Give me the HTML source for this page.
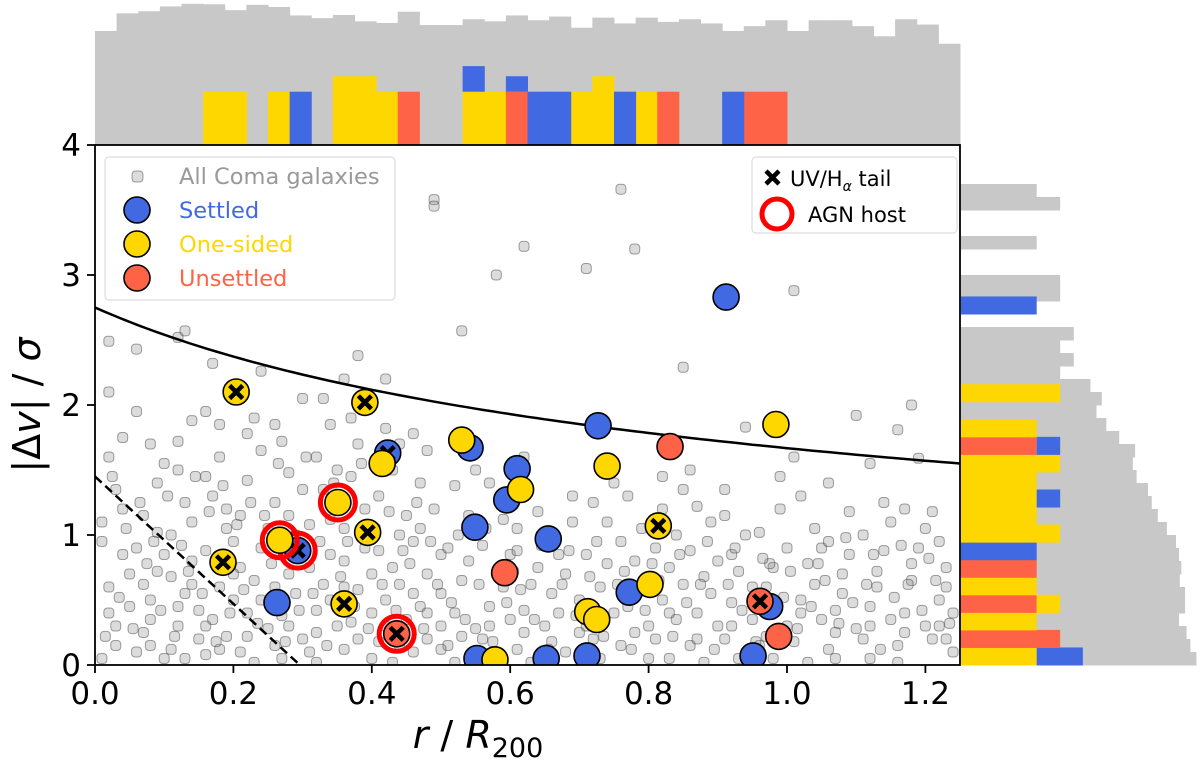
<!DOCTYPE html>
<html><head><meta charset="utf-8"><style>
html,body{margin:0;padding:0;background:#fff;}
svg{display:block;font-family:"DejaVu Sans","Liberation Sans",sans-serif;}
</style></head><body>
<svg id="chart" width="1200" height="768" viewBox="0 0 1200 768" xmlns="http://www.w3.org/2000/svg">
<g id="tophist"></g>
<g id="righthist"></g>
<g id="plot"></g>
<g id="axes"></g>
<g id="legend"></g>
</svg>
<script>
// ---- data ----
const xTicks = [0.0, 0.2, 0.4, 0.6, 0.8, 1.0, 1.2];
const xTickLabels = ["0.0","0.2","0.4","0.6","0.8","1.0","1.2"];
const yTicks = [0, 1, 2, 3, 4];
const yTickLabels = ["0","1","2","3","4"];
const grayPts = [[0.01,0.05],[0.03,0.3],[0.02,0.6],[0.04,0.85],[0.01,1.1],[0.03,1.35],[0.02,1.6],[0.04,1.75],[0.02,2.1],[0.03,0.15],[0.05,0.45],[0.01,0.95],[0.04,1.2],[0.02,2.49],
[0.06,0.1],[0.07,0.25],[0.08,0.5],[0.09,0.72],[0.06,0.9],[0.07,1.15],[0.09,1.4],[0.08,1.7],[0.06,1.95],[0.1,0.05],[0.08,0.35],[0.07,0.62],[0.09,1.02],[0.06,2.43],[0.1,1.55],
[0.11,0.12],[0.12,0.3],[0.13,0.55],[0.14,0.8],[0.11,1.0],[0.13,1.25],[0.12,1.5],[0.14,1.88],[0.13,2.57],[0.12,2.52],[0.15,0.2],[0.11,0.68],[0.14,1.1],[0.12,1.72],[0.15,0.42],[0.13,0.05],
[0.16,0.08],[0.17,0.35],[0.18,0.6],[0.16,0.88],[0.19,1.05],[0.17,1.3],[0.18,1.6],[0.16,1.95],[0.17,2.32],[0.19,0.22],[0.2,0.5],[0.18,1.85],[0.16,1.45],[0.2,0.95],[0.19,1.2],
[0.21,0.1],[0.22,0.4],[0.23,0.65],[0.24,0.9],[0.21,1.15],[0.22,1.42],[0.24,1.65],[0.23,1.9],[0.24,2.26],[0.25,0.28],[0.21,0.75],[0.25,1.05],[0.22,1.78],[0.23,0.02],
[0.26,0.15],[0.27,0.38],[0.28,0.7],[0.29,1.0],[0.26,1.25],[0.28,1.48],[0.27,1.72],[0.3,2.05],[0.29,0.55],[0.3,0.2],[0.26,1.85],[0.28,1.15],[0.3,1.35],[0.27,0.05],
[0.31,0.1],[0.32,0.42],[0.33,0.62],[0.34,0.85],[0.31,1.08],[0.33,1.35],[0.32,1.6],[0.34,1.85],[0.35,0.3],[0.31,0.75],[0.35,1.5],[0.33,2.05],[0.32,0.02],[0.34,1.12],
[0.36,0.12],[0.37,0.33],[0.38,0.58],[0.36,0.8],[0.39,1.2],[0.37,1.45],[0.38,1.7],[0.36,2.2],[0.38,2.38],[0.4,0.4],[0.39,0.9],[0.37,1.9],[0.4,0.05],[0.36,1.05],
[0.41,0.18],[0.42,0.5],[0.43,0.75],[0.44,1.0],[0.41,1.3],[0.43,1.5],[0.42,1.82],[0.45,0.35],[0.44,0.62],[0.41,0.88],[0.45,1.15],[0.43,0.02],[0.44,1.7],[0.42,2.2],
[0.46,0.1],[0.47,0.45],[0.48,0.7],[0.46,0.95],[0.49,1.2],[0.47,1.4],[0.48,1.65],[0.49,3.58],[0.49,3.53],[0.5,0.3],[0.46,1.78],[0.5,0.85],[0.48,0.2],[0.47,1.05],
[0.51,0.15],[0.52,0.4],[0.53,0.65],[0.51,0.9],[0.54,1.15],[0.52,1.38],[0.53,2.57],[0.55,0.28],[0.5,0.55],[0.54,0.8],[0.52,0.02],[0.55,1.5],
[0.56,0.2],[0.57,0.45],[0.58,0.7],[0.56,0.92],[0.59,1.12],[0.58,3.0],[0.6,0.35],[0.57,1.4],[0.59,0.6],[0.56,0.05],[0.6,0.85],
[0.61,0.12],[0.62,0.42],[0.63,0.62],[0.61,0.88],[0.64,1.18],[0.62,1.6],[0.65,0.3],[0.63,0.02],[0.64,0.75],[0.62,3.22],[0.61,1.05],
[0.66,0.18],[0.67,0.4],[0.68,0.7],[0.66,1.0],[0.69,1.3],[0.7,0.5],[0.68,0.1],[0.67,0.85],[0.7,0.25],[0.69,1.1],
[0.71,3.05],[0.72,0.2],[0.73,0.6],[0.71,0.85],[0.74,1.1],[0.72,1.25],[0.75,0.4],[0.73,0.05],[0.74,0.78],[0.71,0.3],[0.75,1.4],
[0.76,3.66],[0.78,3.2],[0.76,0.15],[0.77,0.45],[0.78,0.8],[0.79,1.05],[0.77,1.3],[0.8,0.3],[0.76,0.95],[0.79,0.6],[0.8,0.05],
[0.81,0.2],[0.82,0.5],[0.83,0.75],[0.84,1.0],[0.85,1.35],[0.85,2.29],[0.82,1.2],[0.84,0.35],[0.81,0.9],[0.83,0.05],[0.85,0.62],[0.82,1.45],
[0.86,0.15],[0.87,0.4],[0.88,0.68],[0.86,0.88],[0.89,1.1],[0.87,1.22],[0.9,0.3],[0.88,0.02],[0.89,0.55],[0.86,1.5],[0.9,0.8],
[0.91,0.2],[0.92,0.48],[0.93,0.72],[0.94,1.0],[0.94,1.83],[0.91,1.15],[0.95,0.35],[0.92,0.85],[0.93,0.05],[0.95,0.6],[0.91,1.35],
[0.96,0.15],[0.97,0.4],[0.98,0.75],[0.96,1.02],[0.99,1.2],[1.0,0.3],[0.97,0.6],[1.0,0.9],[0.98,0.05],[0.99,1.45],
[1.01,2.88],[1.01,0.18],[1.02,0.5],[1.03,0.78],[1.04,1.05],[1.02,1.3],[1.05,0.35],[1.03,0.02],[1.04,0.62],[1.05,0.9],[1.01,1.6],
[1.06,0.12],[1.07,0.42],[1.08,0.7],[1.06,0.95],[1.09,1.18],[1.1,1.92],[1.1,0.28],[1.07,0.05],[1.08,0.55],[1.09,0.85],[1.06,1.4],
[1.11,0.2],[1.12,0.45],[1.13,0.72],[1.11,1.0],[1.14,1.25],[1.15,0.35],[1.12,0.05],[1.13,0.6],[1.14,0.88],[1.15,1.1],[1.12,1.55],
[1.16,1.81],[1.18,2.0],[1.16,0.15],[1.17,0.4],[1.18,0.65],[1.19,0.9],[1.19,1.59],[1.17,1.2],[1.2,0.3],[1.16,0.02],[1.18,0.78],[1.2,1.05],
[1.21,1.18],[1.21,0.2],[1.22,0.5],[1.23,0.75],[1.24,0.4],[1.22,0.95],[1.24,0.1],[1.23,0.6],[1.22,0.3],
[0.02,0.4],[0.05,0.7],[0.08,0.15],[0.1,0.85],[0.12,0.45],[0.14,0.62],[0.16,0.3],[0.18,0.12],[0.2,0.7],[0.22,0.22],[0.24,0.5],[0.26,0.6],[0.28,0.3],[0.3,0.85],[0.32,0.25],[0.34,0.5],[0.36,0.6],[0.38,0.2],[0.4,0.7],[0.42,0.3],[0.44,0.15],[0.46,0.55],[0.48,0.4],[0.5,0.12],[0.53,0.22],[0.57,0.3],[0.62,0.25],[0.66,0.55],[0.72,0.45],[0.78,0.25],[0.83,0.4],[0.87,0.2],[0.92,0.3],[0.97,0.22],[1.02,0.4],[1.07,0.25],[1.12,0.3],[1.17,0.25],[1.23,0.2],
[0.015,0.22],[0.035,0.52],[0.055,0.28],[0.075,0.78],[0.095,0.42],[0.115,0.22],[0.135,0.72],[0.155,0.55],[0.175,0.18],[0.195,0.4],[0.215,0.58],[0.235,0.32],[0.255,0.78],[0.275,0.18],[0.295,0.42],[0.315,0.55],[0.335,0.15],[0.355,0.68],[0.375,0.45],[0.395,0.28],[0.415,0.62],[0.435,0.42],[0.455,0.78],[0.475,0.28],[0.495,0.62],[0.515,0.48],[0.535,0.35],[0.555,0.62],[0.575,0.18],[0.595,0.48],[0.615,0.58],[0.635,0.35],[0.655,0.12],[0.675,0.62],[0.695,0.38],[0.715,0.68],[0.735,0.22],[0.755,0.62],[0.775,0.12],[0.795,0.42],[0.815,0.65],[0.835,0.22],[0.855,0.48],[0.875,0.62],[0.895,0.12],[0.915,0.62],[0.935,0.42],[0.955,0.18],[0.975,0.78],[0.995,0.52],[1.015,0.28],[1.035,0.45],[1.055,0.65],[1.075,0.32],[1.095,0.48],[1.115,0.62],[1.135,0.12],[1.155,0.52],[1.175,0.62],[1.195,0.42],[1.215,0.65],[1.235,0.32],
[0.025,1.45],[0.065,1.25],[0.105,1.3],[0.145,1.45],[0.185,1.38],[0.225,1.25],[0.265,1.55],[0.305,1.6],[0.345,1.4],[0.385,1.55],[0.425,1.18],[0.465,1.25],[0.045,1.05],[0.085,0.95],[0.125,0.92],[0.165,1.18],[0.205,1.08],[0.245,1.15],[0.325,0.95],[0.365,0.95],[0.405,1.05],[0.445,0.88],[0.485,0.95],[0.525,1.0],[0.565,1.05],[0.605,0.72],[0.645,0.92],[0.685,0.88],[0.725,0.95],[0.765,0.72],[0.805,0.78],[0.845,0.85],[0.885,0.95],[0.925,0.9],[0.965,0.82],[1.005,0.72],[1.045,0.78],[1.085,0.98],[1.125,0.85],[1.165,0.92],[1.205,0.82]];
const settledX = [0.912,0.727,0.542,0.610,0.595,0.549,0.655,0.423,0.293,0.263,0.772,0.975,0.552,0.652,0.711,0.951];
const settledY = [2.83,1.84,1.67,1.51,1.27,1.06,0.97,1.63,0.88,0.48,0.56,0.45,0.05,0.05,0.07,0.07];
const settledTail = [0,0,0,0,0,0,0,1,1,0,0,0,0,0,0,0];
const settledAGN = [0,0,0,0,0,0,0,0,1,0,0,0,0,0,0,0];
const onesidedX = [0.204,0.390,0.415,0.530,0.615,0.740,0.984,0.351,0.394,0.267,0.185,0.814,0.802,0.712,0.725,0.360,0.578];
const onesidedY = [2.10,2.02,1.55,1.73,1.35,1.53,1.85,1.25,1.02,0.96,0.79,1.07,0.62,0.41,0.35,0.47,0.04];
const onesidedTail = [1,1,0,0,0,0,0,0,1,0,1,1,0,0,0,1,0];
const onesidedAGN = [0,0,0,0,0,0,0,1,0,1,0,0,0,0,0,0,0];
const unsettledX = [0.831,0.592,0.436,0.961,0.988];
const unsettledY = [1.68,0.71,0.24,0.49,0.22];
const unsettledTail = [0,0,1,1,0];
const unsettledAGN = [0,0,1,0,0];
// top histogram (40 bins over 0..1.25)
const topGray = [2.14,2.47,2.51,2.60,2.65,2.64,2.53,2.63,2.59,2.43,2.38,2.44,2.32,2.29,2.50,2.25,2.25,2.36,2.32,2.43,2.34,2.41,2.20,2.39,2.28,2.39,2.31,2.36,2.28,2.14,2.23,2.34,2.14,2.34,2.34,2.23,2.04,2.36,2.26,1.90];
const topYellow = [0,0,0,0,0,1,1,0,1,0,0,1.29,1.29,1,0,0,0,1,1,0,0,0,1,1.29,0,1,0,0,0,0,0,0,0,0,0,0,0,0,0,0];
const topRed    = [0,0,0,0,0,0,0,0,0,0,0,0,0,0,1,0,0,0,0,1,0,0,0,0,0,0,1,0,0,0,1,1,0,0,0,0,0,0,0,0];
const topBlue   = [0,0,0,0,0,0,0,0,0,1,0,0,0,0,0,0,0,0.48,0,0.29,1,1,0,0,1,0,0,0,0,1,0,0,0,0,0,0,0,0,0,0];
// right histogram gray (40 bins over 0..4), colored (21 bins over 0..2.835)
const rightGray = [3.11,3.03,2.98,2.88,2.96,2.96,2.89,2.91,2.88,2.84,2.72,2.60,2.52,2.47,2.32,2.27,2.30,2.09,1.92,1.79,1.86,1.71,1.31,1.49,1.31,1.49,0,0,1.31,1.31,0,0,1.0,0,0,1.31,1.0,0,0,0];
const rightRed    = [0,1.31,0,1,0,1,0,0,0,0,0,0,1,0,0,0,0,0,0,0,0];
const rightYellow = [1,0,1,0.31,1,0,0,1.31,1,1,1,1.31,0,1,0,1.31,0,0,0,0,0];
const rightBlue   = [0.61,0,0,0,0,0,1,0,0,0.31,0,0,0.31,0,0,0,0,0,0,0,1];

// ---- scales ----
const X0=95, X1=960, Y0=665, Y1=145;
const xMax=1.25, yMax=4;
const sx = v => X0 + v/xMax*(X1-X0);
const sy = v => Y0 - v/yMax*(Y0-Y1);
const NS="http://www.w3.org/2000/svg";
function mk(tag, attrs, parent){const e=document.createElementNS(NS,tag);for(const k in attrs)e.setAttribute(k,attrs[k]);parent.appendChild(e);return e;}
const GRAY="#c8c8c8", BLUE="#4169e1", YEL="#ffd700", RED="#ff6347";

// top hist
const th=document.getElementById('tophist');
const topUnit=53.3, bw=(X1-X0)/40;
topGray.forEach((v,i)=>{const h=v*topUnit;const r=mk('rect',{x:X0+i*bw,y:Y1-h,width:bw+0.5,height:h,fill:GRAY},th);

});
[[topYellow,YEL],[topRed,RED]].forEach(([arr,c])=>arr.forEach((v,i)=>{if(!v)return;const h=v*topUnit;const r=mk('rect',{x:X0+i*bw,y:Y1-h,width:bw+0.5,height:h,fill:c},th);

}));
topBlue.forEach((v,i)=>{if(!v)return;const base=topYellow[i]+topRed[i];const h=v*topUnit;const r=mk('rect',{x:X0+i*bw,y:Y1-(base+v)*topUnit,width:bw+0.5,height:h,fill:BLUE},th);

});

// right hist
const rh=document.getElementById('righthist');
const rUnit=75.7, RX=961, gbh=(Y0-Y1)/40, cbh=(Y0-Y1)*(2.835/4)/21;
rightGray.forEach((v,i)=>{if(!v)return;const r=mk('rect',{x:RX,y:Y0-(i+1)*gbh,width:v*rUnit,height:gbh+0.5,fill:GRAY},rh);

});
rightYellow.forEach((v,i)=>{let acc=0;[[rightRed[i],RED],[rightYellow[i],YEL],[rightBlue[i],BLUE]].forEach(([w,c])=>{if(!w)return;
const r=mk('rect',{x:RX+acc*rUnit,y:Y0-(i+1)*cbh,width:w*rUnit,height:cbh+0.5,fill:c},rh);


acc+=w;});});

// plot
const pl=document.getElementById('plot');
mk('rect',{x:X0,y:Y1,width:X1-X0,height:Y0-Y1,fill:'#fff'},pl);
const clip=mk('clipPath',{id:'cp'},pl);mk('rect',{x:X0,y:Y1,width:X1-X0,height:Y0-Y1},clip);
const pg=mk('g',{'clip-path':'url(#cp)'},pl);
grayPts.forEach(p=>{const r=mk('rect',{x:sx(p[0])-5,y:sy(p[1])-5,width:10,height:10,rx:3.5,fill:'rgba(140,140,140,0.3)',stroke:'rgba(50,50,50,0.45)','stroke-width':1},pg);

});
// curves
let d='';for(let i=0;i<=100;i++){const x=i/100*1.25;const y=2.75/Math.sqrt(1+x/0.582);d+=(i?'L':'M')+sx(x).toFixed(1)+','+sy(y).toFixed(1);}
const cv=mk('path',{d:d,fill:'none',stroke:'#000','stroke-width':2.5},pg);


const dl=mk('line',{x1:sx(0),y1:sy(1.45),x2:sx(0.296),y2:sy(0),stroke:'#000','stroke-width':2.5,'stroke-dasharray':'9,5'},pg);


function series(xs,ys,tails,agns,col,name){
 xs.forEach((x,i)=>{
  if(agns[i]){const a=mk('circle',{cx:sx(x),cy:sy(ys[i]),r:17.5,fill:'none',stroke:'#ff0000','stroke-width':5},pg);
   
   }
  const c=mk('circle',{cx:sx(x),cy:sy(ys[i]),r:13,fill:col,stroke:'#000','stroke-width':1.6},pg);
  
  
  if(tails[i]){const cx=sx(x),cy=sy(ys[i]);const t=mk('path',{d:`M${cx-6.5},${cy-6.5}L${cx+6.5},${cy+6.5}M${cx-6.5},${cy+6.5}L${cx+6.5},${cy-6.5}`,stroke:'#000','stroke-width':4.5},pg);
   
   }
 });
}
series(settledX,settledY,settledTail,settledAGN,BLUE,'settled');
series(onesidedX,onesidedY,onesidedTail,onesidedAGN,YEL,'one-sided');
series(unsettledX,unsettledY,unsettledTail,unsettledAGN,RED,'unsettled');

// axes
const ax=document.getElementById('axes');
const fr=mk('rect',{x:X0,y:Y1,width:X1-X0,height:Y0-Y1,fill:'none',stroke:'#000','stroke-width':1.8},ax);


xTicks.forEach((v,i)=>{mk('line',{x1:sx(v),y1:Y0,x2:sx(v),y2:Y0+8,stroke:'#000','stroke-width':1.8},ax);
 const t=mk('text',{x:sx(v),y:Y0+39,'text-anchor':'middle','font-size':31,fill:'#000'},ax);t.textContent=xTickLabels[i];
 
 });
yTicks.forEach((v,i)=>{mk('line',{x1:X0-8,y1:sy(v),x2:X0,y2:sy(v),stroke:'#000','stroke-width':1.8},ax);
 const t=mk('text',{x:X0-14,y:sy(v)+11,'text-anchor':'end','font-size':31,fill:'#000'},ax);t.textContent=yTickLabels[i];
 
 });
const xl=mk('text',{x:478,y:748,'text-anchor':'middle','font-size':38,fill:'#000'},ax);
xl.innerHTML='<tspan font-style="italic">r</tspan> / <tspan font-style="italic">R</tspan><tspan font-size="27" dy="9">200</tspan>';


const yl=mk('text',{x:0,y:0,'text-anchor':'middle','font-size':38,fill:'#000',transform:'translate(40,405) rotate(-90)'},ax);
yl.innerHTML='|Δ<tspan font-style="italic">v</tspan>| / <tspan font-style="italic">σ</tspan>';



// legends
const lg=document.getElementById('legend');
const lb=mk('rect',{x:105,y:157,width:290,height:143,rx:4,fill:'rgba(255,255,255,0.85)',stroke:'#ddd','stroke-width':1.2},lg);


mk('rect',{x:132,y:171,width:11,height:11,rx:3.5,fill:'rgba(140,140,140,0.3)',stroke:'rgba(50,50,50,0.45)'},lg);
const items=[["All Coma galaxies","#999",null,176],["Settled",BLUE,BLUE,210],["One-sided",YEL,YEL,244],["Unsettled",RED,RED,278]];
items.forEach(it=>{if(it[2]){mk('circle',{cx:137,cy:it[3],r:13,fill:it[2],stroke:'#000','stroke-width':1.6},lg);}
 const t=mk('text',{x:179,y:it[3]+8,'font-size':22.5,fill:it[1]},lg);t.textContent=it[0];
 
 });
const rb=mk('rect',{x:752,y:157,width:205,height:76,rx:4,fill:'rgba(255,255,255,0.85)',stroke:'#ddd','stroke-width':1.2},lg);


mk('path',{d:'M766,171L779,184M766,184L779,171',stroke:'#000','stroke-width':4.5},lg);
const t1=mk('text',{x:790,y:186,'font-size':21,fill:'#000'},lg);t1.innerHTML='UV/H<tspan font-size="14" dy="5" font-style="italic">α</tspan><tspan dy="-5"> tail</tspan>';


mk('circle',{cx:777,cy:214,r:15,fill:'none',stroke:'#ff0000','stroke-width':5},lg);
const t2=mk('text',{x:808,y:222,'font-size':21,fill:'#000'},lg);t2.textContent='AGN host';


</script>
</body></html>
